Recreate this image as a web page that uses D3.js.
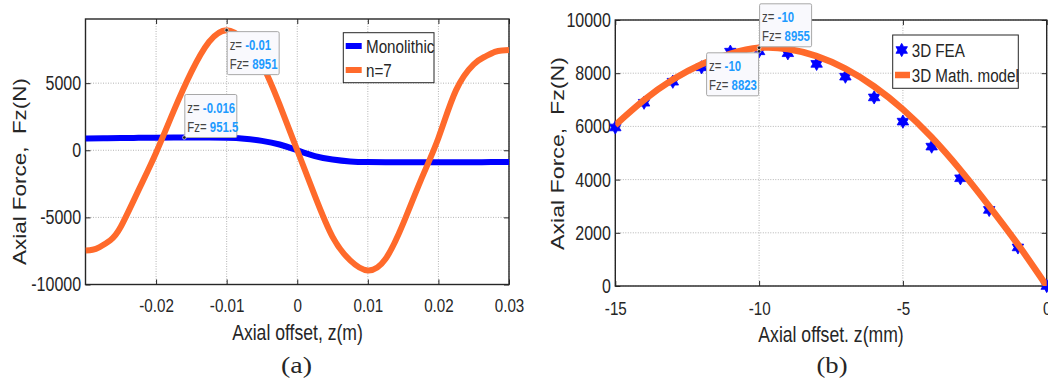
<!DOCTYPE html>
<html>
<head>
<meta charset="utf-8">
<script src="https://cdn.jsdelivr.net/npm/d3@7"></script>
<style>
  html, body { margin: 0; padding: 0; background: #fff; }
  svg { display: block; }
  text { font-family: "Liberation Sans", Arial, sans-serif; fill: #262626; }
  .grid line { stroke: #b4b4b4; stroke-width: 1; stroke-dasharray: 1,1.5; }
  .tick line { stroke: #262626; stroke-width: 1; }
</style>
</head>
<body>
<div id="chart"></div>
<script>
// ---- data (a): axial force vs offset, m ----
var zMono = [-0.03, -0.0275, -0.025, -0.0225, -0.02, -0.0175, -0.015, -0.0125, -0.01, -0.0075, -0.005, -0.0025, 0,
             0.0025, 0.005, 0.0075, 0.01, 0.0125, 0.015, 0.0175, 0.02, 0.0225, 0.025, 0.0275, 0.03];
var monolithic = [870, 890, 910, 925, 940, 950, 951, 945, 925, 860, 700, 430, 0,
                  -430, -690, -830, -880, -895, -900, -900, -895, -890, -885, -880, -870];
var zN7 = [-0.03, -0.029, -0.028, -0.0265, -0.025, -0.0225, -0.02, -0.0175, -0.015, -0.0125, -0.01, -0.0075, -0.005, -0.0025, 0,
           0.0025, 0.005, 0.0075, 0.01, 0.0125, 0.015, 0.0175, 0.02, 0.0225, 0.025, 0.0265, 0.028, 0.029, 0.03];
var n7 = [-7470, -7410, -7210, -6710, -5700, -2990, -180, 2930, 5840, 8080, 8951, 8200, 6400, 3400, 0,
          -3400, -6450, -8200, -8951, -8100, -5470, -2240, 920, 4480, 6400, 6950, 7330, 7440, 7480];
var xTicksA = [-0.02, -0.01, 0, 0.01, 0.02, 0.03];
var xTickLabelsA = ["-0.02", "-0.01", "0", "0.01", "0.02", "0.03"];
var yTicksA = [-10000, -5000, 0, 5000];
var yTickLabelsA = ["-10000", "-5000", "0", "5000"];

// ---- data (b): FEA vs math model, mm ----
var zB = [-15, -14, -13, -12, -11, -10, -9, -8, -7, -6, -5, -4, -3, -2, -1, 0];
var fea = [5960, 6890, 7680, 8220, 8810, 8823, 8750, 8350, 7870, 7090, 6180, 5240, 4050, 2860, 1450, 0];
var mathModel = [6050, 6990, 7760, 8340, 8730, 8955, 8910, 8640, 8170, 7500, 6640, 5590, 4360, 3000, 1560, 0];
var xTicksB = [-15, -10, -5, 0];
var xTickLabelsB = ["-15", "-10", "-5", "0"];
var yTicksB = [0, 2000, 4000, 6000, 8000, 10000];
var yTickLabelsB = ["0", "2000", "4000", "6000", "8000", "10000"];

var BLUE = "#0000ff", ORANGE = "#ff6a2b", SX = 0.8;

var svg = d3.select("#chart").append("svg")
    .attr("width", 1048).attr("height", 387);

// text squeezed horizontally like the original figure
function label(g, x, y, txt, size, anchor, sx) {
    return g.append("text")
        .attr("transform", "translate(" + x + "," + y + ") scale(" + (sx || SX) + ",1)")
        .attr("text-anchor", anchor || "start")
        .style("font-size", size + "px")
        .text(txt);
}

function ylabel(g, x, y, txt, len) {
    g.append("text")
        .attr("transform", "translate(" + x + "," + y + ") rotate(-90)")
        .attr("text-anchor", "middle")
        .attr("textLength", len).attr("lengthAdjust", "spacingAndGlyphs")
        .style("font-size", "19px").style("white-space", "pre")
        .text(txt);
}

// MATLAB-ish hexagram marker
var hexagram = {
    draw: function(ctx, size) {
        var R = Math.sqrt(size), r = R / Math.sqrt(3);
        for (var i = 0; i < 12; i++) {
            var a = Math.PI / 6 * i - Math.PI / 2, rr = i % 2 ? r : R;
            if (i === 0) ctx.moveTo(rr * Math.cos(a), rr * Math.sin(a));
            else ctx.lineTo(rr * Math.cos(a), rr * Math.sin(a));
        }
        ctx.closePath();
    }
};

function axesFrame(x, y, xt, xtl, yt, ytl, xpad, clipId) {
    var xr = x.range(), yr = y.range();
    var g = svg.append("g");

    var grid = g.append("g").attr("class", "grid");
    grid.selectAll(".gx").data(xt).enter().append("line")
        .attr("x1", x).attr("x2", x).attr("y1", yr[0]).attr("y2", yr[1]);
    grid.selectAll(".gy").data(yt).enter().append("line")
        .attr("y1", y).attr("y2", y).attr("x1", xr[0]).attr("x2", xr[1]);

    var bottom = g.append("g").attr("transform", "translate(0," + yr[0] + ")")
        .call(d3.axisBottom(x).tickValues(xt).tickSize(-5).tickPadding(xpad)
            .tickFormat(function(d, i) { return xtl[i]; }));
    bottom.selectAll("text").attr("transform", "scale(" + SX + ",1)")
        .style("font-size", "19px").style("font-family", null);
    var left = g.append("g").attr("transform", "translate(" + xr[0] + ",0)")
        .call(d3.axisLeft(y).tickValues(yt).tickSize(-5).tickPadding(5.5)
            .tickFormat(function(d, i) { return ytl[i]; }));
    left.selectAll("text").attr("transform", "scale(" + SX + ",1)")
        .style("font-size", "20px").style("font-family", null);
    g.append("g").attr("transform", "translate(0," + yr[1] + ")")
        .call(d3.axisTop(x).tickValues(xt).tickSize(-5).tickFormat(""));
    g.append("g").attr("transform", "translate(" + xr[1] + ",0)")
        .call(d3.axisRight(y).tickValues(yt).tickSize(-5).tickFormat(""));
    g.selectAll(".domain").remove();
    g.selectAll(".tick text").attr("fill", "#262626");

    g.append("rect")
        .attr("x", xr[0]).attr("y", yr[1])
        .attr("width", xr[1] - xr[0]).attr("height", yr[0] - yr[1])
        .attr("fill", "none").attr("stroke", "#262626").attr("stroke-width", 1.4);

    svg.append("clipPath").attr("id", clipId).append("rect")
        .attr("x", xr[0]).attr("y", yr[1])
        .attr("width", xr[1] - xr[0]).attr("height", yr[0] - yr[1]);
    return g;
}

function datatip(g, px, py, bx, by, zTxt, fTxt) {
    var w = 52, h = 43;
    g.append("rect").attr("x", bx).attr("y", by).attr("width", w).attr("height", h)
        .attr("fill", "#f9f9fd").attr("stroke", "#a8a8a8").attr("stroke-width", 1).attr("rx", 1.5);
    var t1 = g.append("text").attr("transform", "translate(" + (bx + 2.5) + "," + (by + 18.5) + ") scale(0.76,1)")
        .style("font-size", "15px");
    t1.append("tspan").attr("fill", "#444").text("z= ");
    t1.append("tspan").attr("fill", "#1e9bff").style("font-weight", "bold").text(zTxt);
    var t2 = g.append("text").attr("transform", "translate(" + (bx + 2.5) + "," + (by + 37) + ") scale(0.76,1)")
        .style("font-size", "15px");
    t2.append("tspan").attr("fill", "#444").text("Fz= ");
    t2.append("tspan").attr("fill", "#1e9bff").style("font-weight", "bold").text(fTxt);
    g.append("circle").attr("cx", px).attr("cy", py).attr("r", 1.8)
        .attr("fill", "#222").attr("stroke", "#fff").attr("stroke-width", 0.6);
}

// ================= panel (a) =================
var xA = d3.scaleLinear().domain([-0.03, 0.03]).range([85.5, 509]);
var yA = d3.scaleLinear().domain([-10000, 9780]).range([284.5, 19]);
var gA = axesFrame(xA, yA, xTicksA, xTickLabelsA, yTicksA, yTickLabelsA, 14, "clipA");

var lineA = function(zs, vals) {
    return d3.line().curve(d3.curveNatural)
        .x(function(d, i) { return xA(zs[i]); })
        .y(function(d) { return yA(d); })(vals);
};
gA.append("path").attr("d", lineA(zMono, monolithic)).attr("clip-path", "url(#clipA)")
    .attr("fill", "none").attr("stroke", BLUE).attr("stroke-width", 6);
gA.append("path").attr("d", lineA(zN7, n7)).attr("clip-path", "url(#clipA)")
    .attr("fill", "none").attr("stroke", ORANGE).attr("stroke-width", 6);

// datatips (a)
datatip(gA, xA(-0.01), yA(8951), xA(-0.01) + 0.5, yA(8951) + 1.5, "-0.01", "8951");
datatip(gA, xA(-0.016), yA(951.5), xA(-0.016) + 0.5, yA(951.5) - 43, "-0.016", "951.5");

// legend (a)
gA.append("rect").attr("x", 343.3).attr("y", 32.7).attr("width", 90.7).attr("height", 50)
    .attr("fill", "#fff").attr("stroke", "#262626").attr("stroke-width", 1);
gA.append("line").attr("x1", 345.7).attr("x2", 361.7).attr("y1", 46).attr("y2", 46)
    .attr("stroke", BLUE).attr("stroke-width", 6);
gA.append("line").attr("x1", 345.7).attr("x2", 361.7).attr("y1", 70).attr("y2", 70)
    .attr("stroke", ORANGE).attr("stroke-width", 6);
label(gA, 366, 52.5, "Monolithic", 19);
label(gA, 366, 76.5, "n=7", 19);

// axis titles (a)
label(gA, 297.5, 339.5, "Axial offset, z(m)", 22, "middle");
ylabel(gA, 26, 171.5, "Axial Force,  Fz(N)", 187);
gA.append("text").attr("x", 296.5).attr("y", 373).attr("text-anchor", "middle")
    .attr("textLength", 31).attr("lengthAdjust", "spacingAndGlyphs")
    .style("font-family", "'Liberation Serif', 'Times New Roman', serif").style("font-size", "24px")
    .text("(a)");

// ================= panel (b) =================
var xB = d3.scaleLinear().domain([-15, 0]).range([615.3, 1046.7]);
var yB = d3.scaleLinear().domain([0, 10000]).range([286, 20]);
var gB = axesFrame(xB, yB, xTicksB, xTickLabelsB, yTicksB, yTickLabelsB, 16, "clipB");

var star = d3.symbol().type(hexagram).size(44);
gB.selectAll(".fea").data(fea).enter().append("path")
    .attr("transform", function(d, i) { return "translate(" + xB(zB[i]) + "," + yB(d) + ")"; })
    .attr("d", star).attr("fill", BLUE).attr("stroke", BLUE).attr("stroke-width", 0.8);

var lineB = d3.line().curve(d3.curveNatural)
    .x(function(d, i) { return xB(zB[i]); })
    .y(function(d) { return yB(d); });
gB.append("path").attr("d", lineB(mathModel)).attr("clip-path", "url(#clipB)")
    .attr("fill", "none").attr("stroke", ORANGE).attr("stroke-width", 6.5);

// datatips (b)
datatip(gB, xB(-10), yB(8955), xB(-10) + 0.5, yB(8955) - 44, "-10", "8955");
datatip(gB, xB(-10), yB(8823), xB(-10) - 52.5, yB(8823) + 1.5, "-10", "8823");

// legend (b)
gB.append("rect").attr("x", 892.7).attr("y", 35).attr("width", 125.6).attr("height", 53.3)
    .attr("fill", "#fff").attr("stroke", "#262626").attr("stroke-width", 1);
gB.append("path").attr("transform", "translate(901.7,50)").attr("d", star)
    .attr("fill", BLUE).attr("stroke", BLUE).attr("stroke-width", 0.8);
gB.append("line").attr("x1", 895).attr("x2", 910).attr("y1", 75).attr("y2", 75)
    .attr("stroke", ORANGE).attr("stroke-width", 6.5);
label(gB, 911.7, 56.5, "3D FEA", 19);
label(gB, 911.7, 81.5, "3D Math. model", 19);

// axis titles (b)
label(gB, 831, 342, "Axial offset. z(mm)", 22, "middle");
ylabel(gB, 563.5, 153.5, "Axial Force,  Fz(N)", 193);
gB.append("text").attr("x", 832).attr("y", 373).attr("text-anchor", "middle")
    .attr("textLength", 31).attr("lengthAdjust", "spacingAndGlyphs")
    .style("font-family", "'Liberation Serif', 'Times New Roman', serif").style("font-size", "24px")
    .text("(b)");
</script>
</body>
</html>
